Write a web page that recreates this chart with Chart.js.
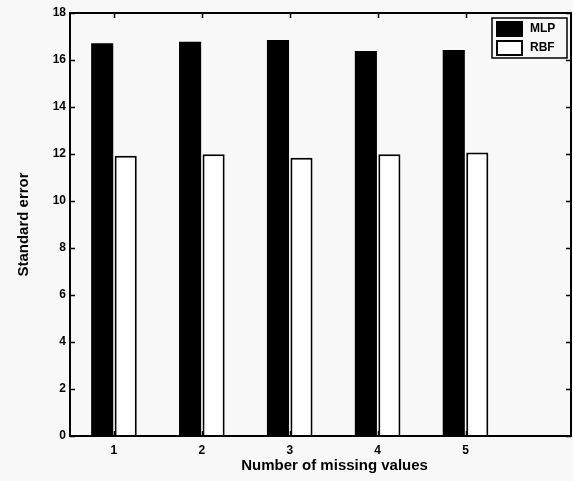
<!DOCTYPE html>
<html>
<head>
<meta charset="utf-8">
<script src="https://cdn.jsdelivr.net/npm/chart.js@4"></script>
<style>
  html, body { margin: 0; padding: 0; background: #f8f8f8; }
  #grafico { display: block; }
</style>
</head>
<body>
<canvas id="grafico" width="573" height="481"></canvas>
<script>
const categorias = [1, 2, 3, 4, 5]
const mlp = [16.71, 16.78, 16.85, 16.38, 16.43]
const rbf = [11.93, 11.99, 11.84, 11.99, 12.06]
const yTicks = [0, 2, 4, 6, 8, 10, 12, 14, 16, 18]
const xTitulo = "Number of missing values"
const yTitulo = "Standard error"

const fonte = "'Liberation Sans', Arial, Helvetica, sans-serif"

// ticks do estilo matlab, pra dentro, e a moldura
const molduraPlugin = {
    id: "moldura",
    afterDraw(chart) {
        const ctx = chart.ctx
        const a = chart.chartArea
        const x = chart.scales.x
        const y = chart.scales.y
        ctx.save()
        ctx.strokeStyle = "#000"
        ctx.lineWidth = 2
        ctx.strokeRect(a.left, a.top, a.right - a.left, a.bottom - a.top)
        ctx.lineWidth = 1.5
        ctx.beginPath()
        yTicks.forEach(v => {
            const py = Math.round(y.getPixelForValue(v)) + 0.5
            ctx.moveTo(a.left, py); ctx.lineTo(a.left + 5, py)
            ctx.moveTo(a.right, py); ctx.lineTo(a.right - 5, py)
        })
        categorias.forEach(v => {
            const px = Math.round(x.getPixelForValue(v)) + 0.5
            ctx.moveTo(px, a.bottom); ctx.lineTo(px, a.bottom - 5)
            ctx.moveTo(px, a.top); ctx.lineTo(px, a.top + 5)
        })
        ctx.stroke()

        // titulos dos eixos
        ctx.fillStyle = "#000"
        ctx.font = "bold 15px " + fonte
        ctx.textAlign = "center"
        ctx.textBaseline = "middle"
        ctx.fillText(xTitulo, x.getPixelForValue(3.51), 466)
        ctx.translate(24, (a.top + a.bottom) / 2)
        ctx.rotate(-Math.PI / 2)
        ctx.fillText(yTitulo, 0, 0)
        ctx.restore()

        // legenda dentro do grafico
        ctx.save()
        const lx = a.right - 79
        const ly = a.top + 5
        ctx.fillStyle = "#f8f8f8"
        ctx.fillRect(lx, ly, 75, 40)
        ctx.strokeStyle = "#000"
        ctx.lineWidth = 1.5
        ctx.strokeRect(lx, ly, 75, 40)
        ctx.font = "bold 12px " + fonte
        ctx.textAlign = "left"
        ctx.textBaseline = "middle"
        chart.data.datasets.forEach((ds, i) => {
            const sy = ly + 4 + i * 19
            ctx.fillStyle = ds.backgroundColor
            ctx.fillRect(lx + 5, sy, 25, 14)
            ctx.lineWidth = 2
            ctx.strokeRect(lx + 5, sy, 25, 14)
            ctx.fillStyle = "#000"
            ctx.fillText(ds.label, lx + 38, sy + 7)
        })
        ctx.restore()
    }
}

new Chart(document.getElementById("grafico"), {
    type: "bar",
    data: {
        datasets: [
            {
                label: "MLP",
                data: categorias.map((c, i) => ({ x: c, y: mlp[i] })),
                backgroundColor: "#000",
                borderColor: "#000",
                borderWidth: 0
            },
            {
                label: "RBF",
                data: categorias.map((c, i) => ({ x: c, y: rbf[i] })),
                backgroundColor: "#fff",
                borderColor: "#000",
                borderWidth: 2
            }
        ]
    },
    options: {
        responsive: false,
        animation: false,
        categoryPercentage: 0.535,
        barPercentage: 0.94,
        layout: { padding: { top: 13, right: 2, left: 0, bottom: 0 } },
        plugins: {
            legend: { display: false },
            tooltip: { enabled: false }
        },
        scales: {
            x: {
                type: "linear",
                min: 0.5,
                max: 6.2,
                offset: false,
                afterBuildTicks: s => { s.ticks = categorias.map(v => ({ value: v })) },
                afterFit: s => { s.height = 45 },
                grid: { display: false, drawTicks: false },
                border: { display: false },
                ticks: {
                    color: "#000",
                    padding: 7,
                    font: { family: fonte, size: 12, weight: "bold" },
                    callback: v => String(v)
                }
            },
            y: {
                min: 0,
                max: 18,
                afterBuildTicks: s => { s.ticks = yTicks.map(v => ({ value: v })) },
                afterFit: s => { s.width = 70 },
                grid: { display: false, drawTicks: false },
                border: { display: false },
                ticks: {
                    color: "#000",
                    padding: 4,
                    font: { family: fonte, size: 12, weight: "bold" }
                }
            }
        }
    },
    plugins: [molduraPlugin]
})
</script>
</body>
</html>
